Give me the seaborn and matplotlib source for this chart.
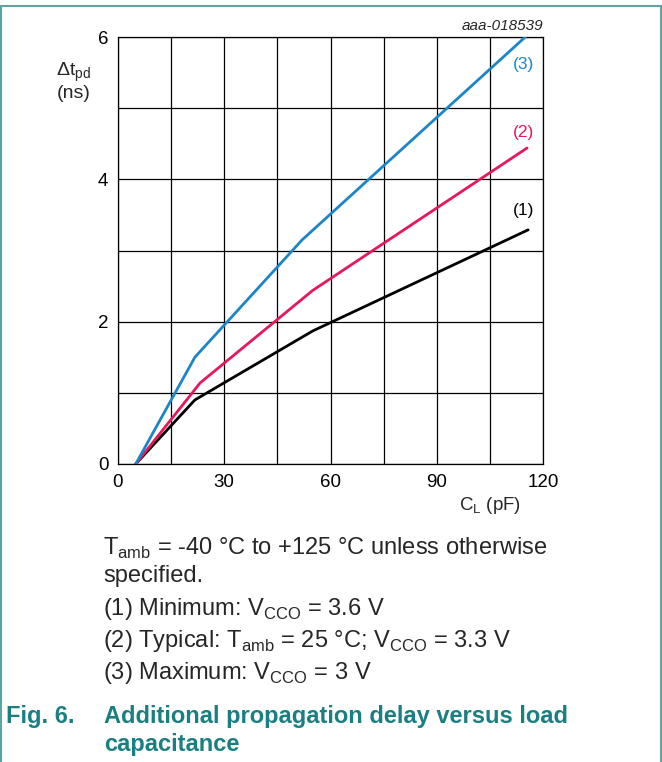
import numpy as np
import pandas as pd
import matplotlib
matplotlib.use("Agg")
import matplotlib.pyplot as plt
import seaborn as sns
from matplotlib.patches import Rectangle

# Data (C_L in pF, delta t_pd in ns)
cl_min = [5, 21.7, 55, 115.8]
dt_min = [0, 0.90, 1.87, 3.29]

cl_typ = [5, 23.2, 55, 115.5]
dt_typ = [0, 1.14, 2.44, 4.44]

cl_max = [5, 21.7, 52, 115]
dt_max = [0, 1.50, 3.15, 6.0]

x_ticks = [0, 30, 60, 90, 120]
y_ticks = [0, 2, 4, 6]
curve_labels = ["(1)", "(2)", "(3)"]

sns.set_style("white")
plt.rcParams['font.family'] = ['Liberation Sans', 'DejaVu Sans']
plt.rcParams['mathtext.fontset'] = 'custom'
plt.rcParams['mathtext.rm'] = 'Liberation Sans'

fig = plt.figure(figsize=(6.62, 7.62), dpi=100)
ax = fig.add_axes([118 / 662, 1 - 464 / 762, 425 / 662, 427 / 762])

colors = ["#000000", "#e8175d", "#1a86c8"]
series = [(cl_min, dt_min), (cl_typ, dt_typ), (cl_max, dt_max)]
for (xs, ys), c in zip(series, colors):
    df = pd.DataFrame({"cl": xs, "dt": ys})
    sns.lineplot(data=df, x="cl", y="dt", ax=ax, color=c, linewidth=2.0,
                 estimator=None, sort=False, zorder=3)

ax.set_xlim(0, 120)
ax.set_ylim(0, 6)
ax.set_xticks(np.arange(0, 121, 15))
ax.set_xticklabels([str(v) if v in x_ticks else "" for v in range(0, 121, 15)])
ax.set_yticks(np.arange(0, 6.1, 1))
ax.set_yticklabels([str(v) if v in y_ticks else "" for v in range(0, 7)])
ax.grid(True, color="black", linewidth=0.9)
for s in ax.spines.values():
    s.set_color("black")
    s.set_linewidth(0.9)
ax.tick_params(axis="both", length=0, labelsize=13.5, pad=7, colors="black")
ax.set_xlabel("")
ax.set_ylabel("")

# curve labels
ax.text(117.5, 5.62, curve_labels[2], color=colors[2], fontsize=12.5, ha="right", va="center")
ax.text(117.5, 4.55, curve_labels[1], color=colors[1], fontsize=12.5, ha="right", va="bottom")
ax.text(117.5, 3.45, curve_labels[0], color=colors[0], fontsize=12.5, ha="right", va="bottom")

# axis labels
fig.text(74 / 662, 1 - 72 / 762, r"$\Delta$t$_\mathregular{pd}$", fontsize=14, ha="center", va="center")
fig.text(74 / 662, 1 - 93 / 762, "(ns)", fontsize=14, ha="center", va="center")
fig.text(490 / 662, 1 - 505 / 762, r"C$_\mathregular{L}$ (pF)", fontsize=13.5, ha="center", va="center")
fig.text(543 / 662, 1 - 26 / 762, "aaa-018539", fontsize=11, style="italic", ha="right", va="center")

# notes
nx = 103 / 662
fs = 17
fig.text(nx, 1 - 548 / 762, r"T$_\mathregular{amb}$ = -40 °C to +125 °C unless otherwise",
         fontsize=fs, ha="left", va="center")
fig.text(nx, 1 - 576 / 762, "specified.", fontsize=fs, ha="left", va="center")
fig.text(nx, 1 - 609 / 762, r"(1) Minimum: V$_\mathregular{CCO}$ = 3.6 V", fontsize=fs, ha="left", va="center")
fig.text(nx, 1 - 641 / 762, r"(2) Typical: T$_\mathregular{amb}$ = 25 °C; V$_\mathregular{CCO}$ = 3.3 V",
         fontsize=fs, ha="left", va="center")
fig.text(nx, 1 - 673 / 762, r"(3) Maximum: V$_\mathregular{CCO}$ = 3 V", fontsize=fs, ha="left", va="center")

teal = "#1a7f80"
fig.text(6 / 662, 1 - 717 / 762, "Fig. 6.", fontsize=17, weight="bold", color=teal, ha="left", va="center")
fig.text(104 / 662, 1 - 717 / 762, "Additional propagation delay versus load",
         fontsize=17, weight="bold", color=teal, ha="left", va="center")
fig.text(104 / 662, 1 - 744 / 762, "capacitance", fontsize=17, weight="bold", color=teal,
         ha="left", va="center")

# frame around figure
fig.patches.append(Rectangle((0.5 / 662, -0.01), 660.5 / 662, 1 - 6 / 762 + 0.01,
                             transform=fig.transFigure, fill=False,
                             edgecolor="#5fa3a3", linewidth=1.5))

fig.savefig("out.png", dpi=100)
